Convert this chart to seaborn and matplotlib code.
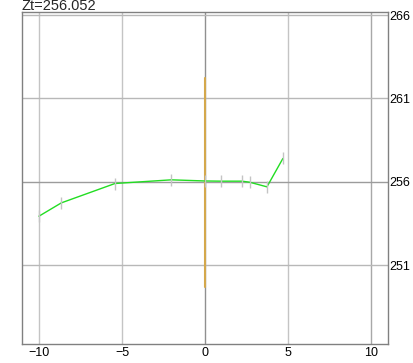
import matplotlib
matplotlib.use("Agg")
import matplotlib.pyplot as plt
import seaborn as sns

# profile data
zt = 256.052
offsets = [-10.0, -8.65, -5.42, -2.03, 0.0, 0.98, 2.22, 2.68, 3.73, 4.69]
heights = [253.94, 254.74, 255.90, 256.12, 256.052, 256.04, 256.04, 255.98, 255.70, 257.40]
pole_x = [0.0, 0.0]
pole_y = [249.71, 262.23]
x_ticks = [-10, -5, 0, 5, 10]
y_ticks = [251, 256, 261, 266]

sns.set_style("white")
plt.rcParams["font.family"] = ["Liberation Sans", "DejaVu Sans"]
plt.rcParams["font.size"] = 9

fig = plt.figure(figsize=(4.14, 3.63), dpi=100)
ax = fig.add_axes([22 / 414, 19 / 363, 366 / 414, 332 / 363])

# pole / vertical marker (estimator=None so both ends are kept)
sns.lineplot(x=pole_x, y=pole_y, color="#d4a84c", linewidth=1.5,
             sort=False, estimator=None, ax=ax, zorder=2)
# section line with tick markers
sns.lineplot(x=offsets, y=heights, color="#22dd22", linewidth=1.0,
             sort=False, estimator=None, marker="|", markersize=8,
             markeredgewidth=1.0, markeredgecolor="#c4c4c4", ax=ax, zorder=3)

ax.set_xlim(-11.02, 11.02)
ax.set_ylim(246.28, 266.18)
ax.set_xticks(x_ticks)
ax.set_yticks(y_ticks)
ax.yaxis.tick_right()
ax.tick_params(axis="both", length=0, labelsize=9, colors="black")
ax.tick_params(axis="y", pad=1)
ax.tick_params(axis="x", pad=2)
ax.set_xlabel("")
ax.set_ylabel("")

ax.grid(True, linewidth=1.0, zorder=0)
ax.set_axisbelow(True)
for gl in ax.get_xgridlines():
    gl.set_color("#c4c4c4")
ax.get_xgridlines()[2].set_color("#909090")
ax.get_xgridlines()[4].set_color("#a8a8a8")
for gl in ax.get_ygridlines():
    gl.set_color("#b8b8b8")
ax.get_ygridlines()[1].set_color("#9c9c9c")

for s in ax.spines.values():
    s.set_color("#808080")
    s.set_linewidth(1.0)

fig.text(22 / 414, 1 - 10 / 363, "Zt=%.3f" % zt, fontsize=10.5,
         ha="left", va="baseline")

fig.savefig("out.png", dpi=100)
